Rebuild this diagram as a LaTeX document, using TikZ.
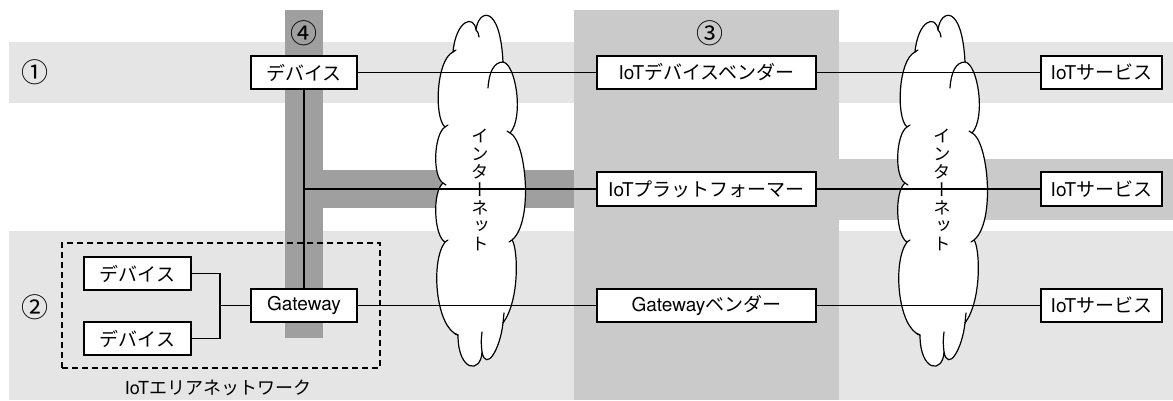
\documentclass[tikz,border=0pt]{standalone}
\usepackage{fontspec}
\setmainfont{Noto Sans CJK JP}
\newfontfamily\vfont[RawFeature=+vert]{Noto Sans CJK JP}
\newfontfamily\latfont{TeX Gyre Heros}
\newcommand\la[1]{{\latfont #1}}
\definecolor{lightg}{RGB}{229,229,229}
\definecolor{midg}{RGB}{201,202,201}
\definecolor{darkg}{RGB}{158,159,158}
\tikzset{
  box/.style={draw, line width=1.4pt, fill=white, inner sep=0pt,
    minimum height=33pt, font=\fontsize{19}{22}\selectfont},
  conn/.style={line width=1.2pt},
  numlab/.style={inner sep=0pt, font=\fontsize{27}{30}\selectfont},
  vtxt/.style={inner sep=0pt, align=center, font=\vfont\fontsize{17.5}{18}\selectfont},
  cloudline/.style={line width=1.2pt, line cap=round, line join=round},
  cloud shape/.pic={
    \draw[cloudline, fill=white]
      (-27,52) .. controls (-24,20) and (-6,14) .. (-4,30)
      .. controls (-2,10) and (20,2) .. (23,62)
      .. controls (36,64) and (44,118) .. (30,133)
      .. controls (46,140) and (54,222) .. (32,240)
      .. controls (38,248) and (40,300) .. (23,323)
      .. controls (20,350) and (6,372) .. (2,352)
      .. controls (1,374) and (-22,372) .. (-22,335)
      .. controls (-44,328) and (-50,262) .. (-35,242)
      .. controls (-46,236) and (-48,192) .. (-37,183)
      .. controls (-48,176) and (-46,134) .. (-35,127)
      .. controls (-46,118) and (-44,60) .. (-27,52) -- cycle;
    \draw[cloudline] (-4,30) .. controls (-2,32) .. (-1,37);
    \draw[cloudline] (23,62) .. controls (14,62) and (9,72) .. (8,88);
    \draw[cloudline] (23,323) -- (24,313);
    \draw[cloudline] (2,352) .. controls (1,342) .. (2,332);
    \draw[cloudline] (-22,335) -- (-25,334);
    \draw[cloudline] (-35,242) -- (-32,240);
    \draw[cloudline] (-37,183) -- (-34,185);
    \draw[cloudline] (-35,127) -- (-32,125);
    \draw[cloudline] (-27,52) -- (-24,50);
    \draw[cloudline] (30,133) -- (27,131);
    \draw[cloudline] (32,240) -- (29,242);
  }
}
\begin{document}
\begin{tikzpicture}[x=1pt, y=-1pt]
\useasboundingbox (0,0) rectangle (1173,400);
% bands
\fill[lightg] (9,42) rectangle (1173,103);
\fill[lightg] (9,231) rectangle (1173,400);
\fill[midg] (574,10) rectangle (839,400);
\fill[midg] (839,159) rectangle (1173,220);
\fill[darkg] (285,10) rectangle (323,338);
\fill[darkg] (323,170) rectangle (574,208);
% clouds
\pic at (480,0) {cloud shape};
\pic at (942,0) {cloud shape};
\node[vtxt] (net1) at (480,190) {イ\\ン\\タ\\ー\\ネ\\ッ\\ト};
\node[vtxt] (net2) at (942,190) {イ\\ン\\タ\\ー\\ネ\\ッ\\ト};
% labels
\node[numlab] (n1) at (35,72) {①};
\node[numlab] (n2) at (35,307) {②};
\node[numlab] (n3) at (710,33) {③};
\node[numlab] (n4) at (304,33) {④};
% area
\node[draw, dashed, dash pattern=on 6pt off 4pt, line width=1.2pt, minimum width=318pt, minimum height=125pt, inner sep=0pt] (area) at (221,305.5) {};
\node[inner sep=0pt, font=\fontsize{18}{20}\selectfont] (arealab) at (218,388) {\la{IoT}エリアネットワーク};
% boxes
\node[box, minimum width=106pt] (dev) at (304,72.5) {デバイス};
\node[box, minimum width=219pt] (vend) at (706.5,72.5) {\la{IoT}デバイスベンダー};
\node[box, minimum width=121pt] (svc1) at (1101.5,72.5) {\la{IoT}サービス};
\node[box, minimum width=219pt, minimum height=34pt] (plat) at (706.5,189) {\la{IoT}プラットフォーマー};
\node[box, minimum width=121pt, minimum height=34pt] (svc2) at (1101.5,189) {\la{IoT}サービス};
\node[box, minimum width=219pt] (gwv) at (706.5,305.5) {\la{Gateway}ベンダー};
\node[box, minimum width=121pt] (svc3) at (1101.5,305.5) {\la{IoT}サービス};
\node[box, minimum width=106pt] (gw) at (304,305.5) {\la{Gateway}};
\node[box, minimum width=107pt] (d1) at (137.5,273.5) {デバイス};
\node[box, minimum width=107pt] (d2) at (137.5,338.5) {デバイス};
% connectors
\coordinate (j) at (304,189);
\coordinate (m) at (220,305.5);
\draw[conn] (dev) -- (vend);
\draw[conn] (vend) -- (svc1);
\draw[conn] (dev.south) -- (gw.north);
\draw[conn] (j) -- (plat.west);
\draw[conn] (plat) -- (svc2);
\draw[conn] (gw) -- (gwv);
\draw[conn] (gwv) -- (svc3);
\draw[conn] (d1.east) -| (m) |- (d2.east);
\draw[conn] (m) -- (gw.west);
\end{tikzpicture}
\end{document}
